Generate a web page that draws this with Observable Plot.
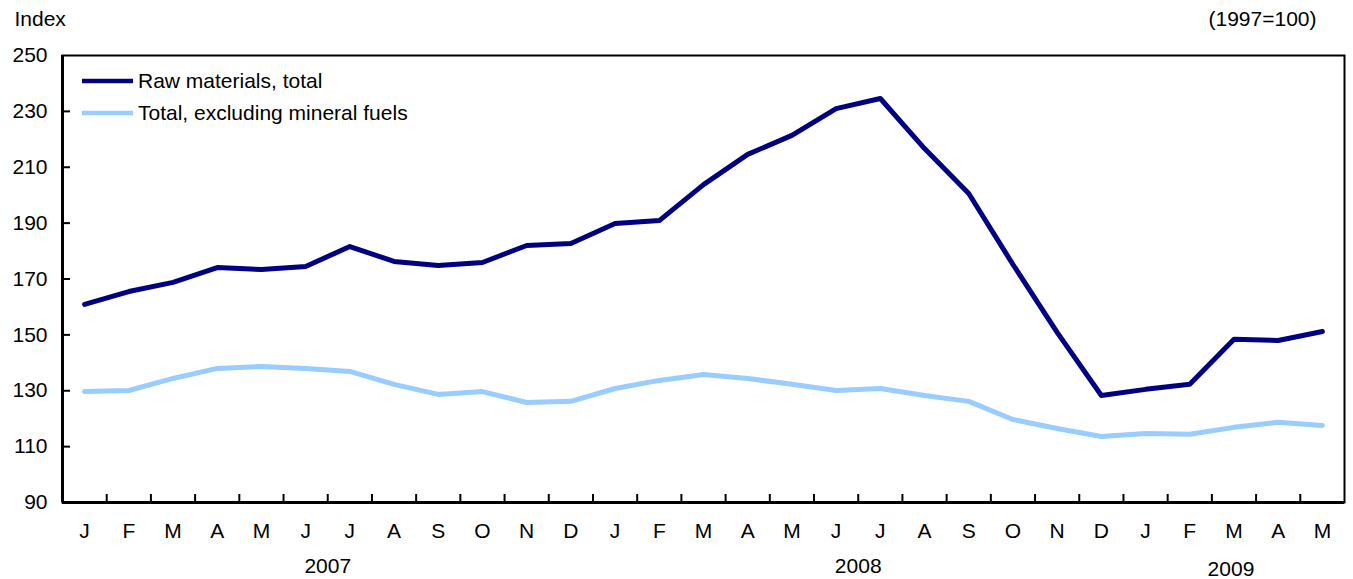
<!DOCTYPE html>
<html>
<head>
<meta charset="utf-8">
<script src="https://cdn.jsdelivr.net/npm/d3@7"></script>
<script src="https://cdn.jsdelivr.net/npm/@observablehq/plot@0.6"></script>
<style>
  body { margin: 0; background: #fff; }
  #wrap { position: relative; width: 1353px; height: 579px; font-family: "Liberation Sans", Arial, Helvetica, sans-serif; }
  .leg { position: absolute; left: 82px; height: 24px; display: flex; align-items: center; font-size: 21px; color: #000; white-space: nowrap; }
  .leg svg { margin-right: 5px; }
</style>
</head>
<body>
<div id="wrap"></div>
<script>
const monthLabels = ["J","F","M","A","M","J","J","A","S","O","N","D",
                     "J","F","M","A","M","J","J","A","S","O","N","D",
                     "J","F","M","A","M"];
const monthYears = [2007,2007,2007,2007,2007,2007,2007,2007,2007,2007,2007,2007,
                    2008,2008,2008,2008,2008,2008,2008,2008,2008,2008,2008,2008,
                    2009,2009,2009,2009,2009];
const rawTotal = [160.9,165.5,168.8,174.1,173.4,174.5,181.6,176.3,174.8,175.9,182.0,182.7,
                  189.9,190.9,203.8,214.6,221.4,231.0,234.6,216.7,200.6,175.2,150.9,128.3,
                  130.5,132.3,148.4,148.0,151.2];
const exclFuels = [129.7,130.1,134.4,138.0,138.7,138.0,136.9,132.3,128.7,129.7,125.8,126.2,
                   130.8,133.7,135.8,134.4,132.3,130.1,130.8,128.3,126.2,119.7,116.5,113.6,
                   114.7,114.4,116.9,118.7,117.6];
const seriesNames = ["Raw materials, total", "Total, excluding mineral fuels"];
const seriesColors = ["#000080", "#99ccff"];
const yTicks = [90,110,130,150,170,190,210,230,250];
const years = [2007, 2008, 2009];

const idx = monthLabels.map((_, i) => i);
const rows = [];
idx.forEach(i => {
  rows.push({i, v: rawTotal[i], s: seriesNames[0]});
  rows.push({i, v: exclFuels[i], s: seriesNames[1]});
});
const boundaries = idx.slice(0, -1).map(i => i + 0.5);
const yearCenters = years.map(y => {
  const m = idx.filter(i => monthYears[i] === y);
  return {year: y, x: d3.mean(m), dy: y === 2009 ? 68 : 64};
});

const W = 1353, H = 579, mL = 62, mR = 9, mT = 55, mB = 77;
const innerW = W - mL - mR, innerH = H - mT - mB;
const FS = 21;

const chart = Plot.plot({
  width: W, height: H,
  marginLeft: mL, marginRight: mR, marginTop: mT, marginBottom: mB,
  style: {fontFamily: '"Liberation Sans", Arial, Helvetica, sans-serif', fontSize: FS + "px", color: "#000", background: "#fff"},
  x: {domain: [-0.5, monthLabels.length - 0.5]},
  y: {domain: [90, 250]},
  color: {domain: seriesNames, range: seriesColors},
  marks: [
    Plot.axisY({ticks: yTicks, tickSize: 0, tickPadding: 15, label: null, fontSize: FS}),
    Plot.axisX({ticks: idx, tickFormat: i => monthLabels[i], tickSize: 0, tickPadding: 21, label: null, fontSize: FS}),
    Plot.ruleX(boundaries, {insetTop: innerH - 8, stroke: "#000", strokeWidth: 2}),
    Plot.ruleY(yTicks.slice(1, -1), {insetRight: innerW - 8, stroke: "#000", strokeWidth: 2}),
    Plot.lineY(rows, {x: "i", y: "v", z: "s", stroke: "s", strokeWidth: 5, strokeLinejoin: "round"}),
    Plot.frame({stroke: "#000", strokeWidth: 2}),
    Plot.ruleX([-0.5], {stroke: "#000", strokeWidth: 3}),
    Plot.ruleY([90], {stroke: "#000", strokeWidth: 3}),
    Plot.text(yearCenters.filter(d => d.year !== 2009), {x: "x", text: d => String(d.year), frameAnchor: "bottom", dy: 64, lineAnchor: "middle", fontSize: FS}),
    Plot.text(yearCenters.filter(d => d.year === 2009), {x: "x", text: d => String(d.year), frameAnchor: "bottom", dy: 67, dx: -3, lineAnchor: "middle", fontSize: FS}),
    Plot.text(["Index"], {frameAnchor: "top-left", textAnchor: "start", dx: -48, dy: -36, lineAnchor: "middle", fontSize: FS}),
    Plot.text(["(1997=100)"], {frameAnchor: "top-right", textAnchor: "end", dx: -28, dy: -36, lineAnchor: "middle", fontSize: FS})
  ]
});

const wrap = document.getElementById("wrap");
wrap.appendChild(chart);

const legendTops = [81, 113];
seriesNames.forEach((name, k) => {
  const d = document.createElement("div");
  d.className = "leg";
  d.style.top = (legendTops[k] - 12) + "px";
  d.innerHTML = `<svg width="51" height="6"><line x1="0" y1="3" x2="51" y2="3" stroke="${seriesColors[k]}" stroke-width="4.5"/></svg><span>${name}</span>`;
  wrap.appendChild(d);
});
</script>
</body>
</html>
